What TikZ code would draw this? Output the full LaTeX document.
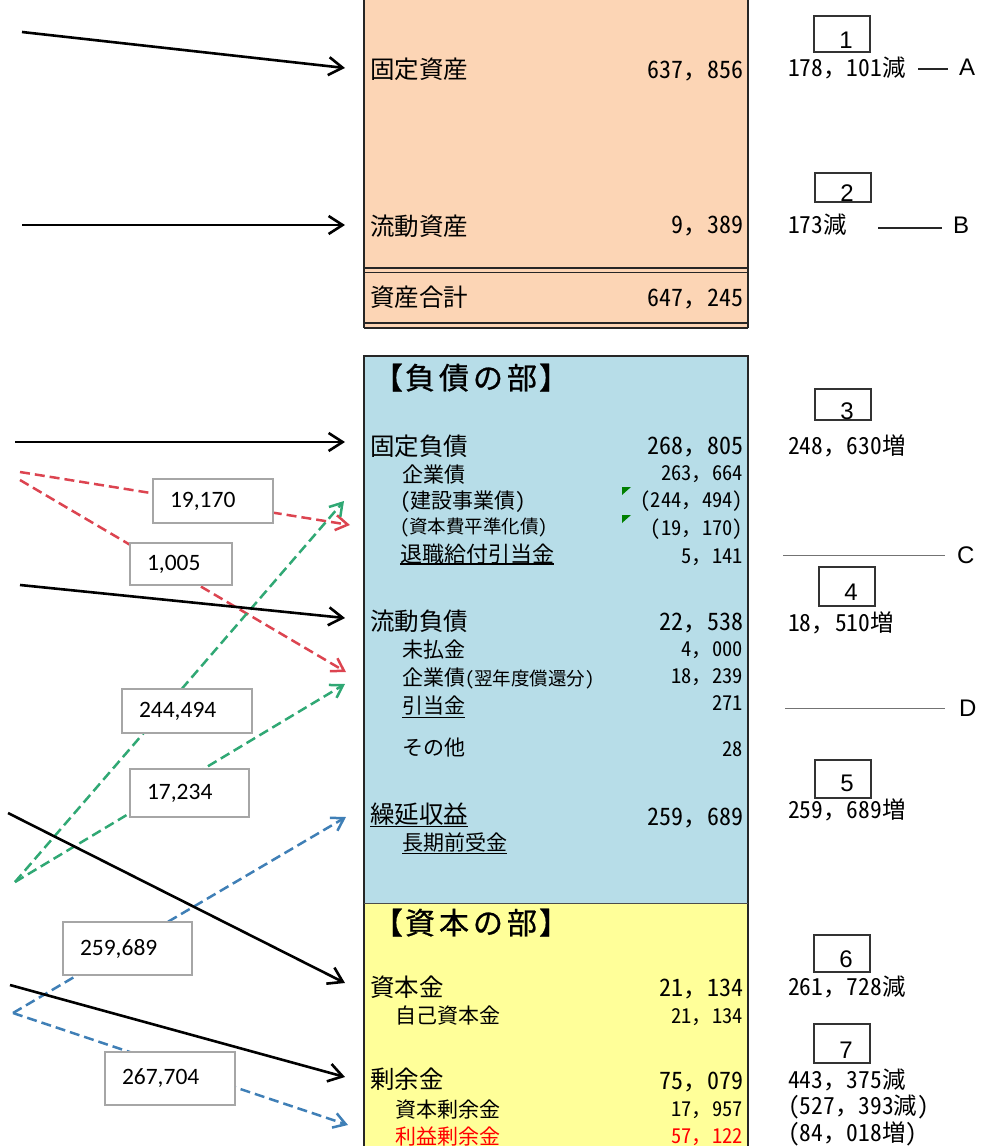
\documentclass[tikz,border=0pt]{standalone}
\usepackage{fontspec}
\setmainfont{Noto Sans CJK JP}
\newfontfamily\hw{Noto Sans CJK JP}[RawFeature=+hwid]
\newfontfamily\hdrfont{Noto Sans CJK JP}[FakeBold=0.8]
\newfontfamily\labfont{Carlito}
\newfontfamily\arlfont{Liberation Sans}
\usetikzlibrary{arrows.meta}
\newcommand\numpair[2]{{\hw #1}，{\hw #2}}
\definecolor{peach}{HTML}{FCD5B5}
\definecolor{lblue}{HTML}{B7DDE8}
\definecolor{lyellow}{HTML}{FFFF99}
\definecolor{redd}{HTML}{DC4450}
\definecolor{greend}{HTML}{30A874}
\definecolor{blued}{HTML}{3F7FB6}
\definecolor{markgreen}{HTML}{008000}
\begin{document}
\begin{tikzpicture}[x=1pt,y=-1pt,
  every node/.style={inner sep=0pt, outer sep=0pt},
  bord/.style={draw=black!85, line width=1.4pt},
  L/.style={font=\fontsize{24.5}{24.5}\selectfont, anchor=base west},
  Ln/.style={font=\fontsize{24}{24}\selectfont, anchor=base east},
  S/.style={font=\fontsize{21}{21}\selectfont, anchor=base west},
  Sn/.style={font=\fontsize{20.5}{20.5}\selectfont, anchor=base east},
  H/.style={font=\hdrfont\fontsize{30}{30}\selectfont, anchor=base west},
  R/.style={font=\fontsize{23.5}{23.5}\selectfont, anchor=base west},
  letter/.style={font=\arlfont\fontsize{24}{24}\selectfont, anchor=base west},
  nbox/.style={draw=black!80, line width=1.1pt, minimum width=56pt, anchor=south west},
  nnum/.style={font=\arlfont\fontsize{24}{24}\selectfont, anchor=base},
  blk/.style={draw=black, line width=2.6pt, -{Straight Barb[length=14pt,width=18pt]}},
  dsh/.style={line width=2.5pt, dash pattern=on 10pt off 5pt, -{Straight Barb[length=12pt,width=15pt]}},
  lbl/.style={draw=black!35, line width=1.4pt, fill=white, font=\labfont\fontsize{23.5}{23.5}\selectfont, align=left, inner xsep=17pt, inner ysep=0pt},
  uline/.style={draw=black, line width=1.3pt},
  sep/.style={draw=black!55, line width=1pt}
]
\useasboundingbox (0,0) rectangle (986,1146);

% ---------- backgrounds ----------
\fill[peach] (364,-10) rectangle (748,328);
\fill[lblue] (364,356) rectangle (748,903);
\fill[lyellow] (364,903) rectangle (748,1156);
\draw[bord] (364,-10) -- (364,328) (748,-10) -- (748,328);
\draw[bord] (364,268) -- (748,268) (364,272.5) -- (748,272.5);
\draw[bord] (364,323) -- (748,323) (364,328) -- (748,328);
\draw[bord] (364,1156) -- (364,356) -- (748,356) -- (748,1156);
\draw[draw=black!70, line width=1pt] (364,903) -- (748,903);

% ---------- assets ----------
\node[L] (fa) at (370,78.5) {固定資産};
\node[Ln] (fav) at (743,78.5) {\numpair{637}{856}};
\node[L] (ca) at (370,235) {流動資産};
\node[Ln] (cav) at (743,233.5) {\numpair{9}{389}};
\node[L] (ta) at (370,306.5) {資産合計};
\node[Ln] (tav) at (743,306) {\numpair{647}{245}};

% ---------- liabilities ----------
\node[H] (hl) at (373,389) {【\kern2pt 負\kern4pt 債\kern4pt の\kern4pt 部\kern2pt 】};
\node[L] (fl) at (370,455) {固定負債};
\node[Ln] (flv) at (743,454) {\numpair{268}{805}};
\node[S] (bd) at (402,482) {企業債};
\node[Sn] (bdv) at (743,480.5) {\numpair{263}{664}};
\node[S] (bd1) at (400,508) {{\hw (}建設事業債{\hw )}};
\node[Sn] (bd1v) at (743,507.5) {\numpair{(244}{494)}};
\node[S, font=\fontsize{18.5}{18.5}\selectfont] (bd2) at (400,533) {{\hw (}資本費平準化債{\hw )}};
\node[Sn] (bd2v) at (743,535) {\numpair{(19}{170)}};
\node[S, font=\fontsize{22}{22}\selectfont] (rt) at (400,562) {退職給付引当金};
\node[Sn] (rtv) at (743,563.3) {\numpair{5}{141}};
\draw[uline] ([yshift=-2pt]rt.base west) -- ([yshift=-2pt]rt.base east);
\fill[markgreen] (622,487) -- (631,487) -- (622,495) -- cycle;
\fill[markgreen] (622,515) -- (631,515) -- (622,523) -- cycle;

\node[L] (cl) at (370,630) {流動負債};
\node[Ln] (clv) at (743,630) {\numpair{22}{538}};
\node[S] (ap) at (402,657) {未払金};
\node[Sn] (apv) at (743,656.7) {\numpair{4}{000}};
\node[S] (cb) at (402,685) {企業債{\fontsize{18.5}{18.5}\selectfont{\hw (}翌年度償還分{\hw )}}};
\node[Sn] (cbv) at (743,683.3) {\numpair{18}{239}};
\node[S] (pv) at (402,713.5) {引当金};
\node[Sn] (pvv) at (743,710) {{\hw 271}};
\draw[uline] ([yshift=-4pt]pv.base west) -- ([yshift=-4pt]pv.base east);
\node[S] (ot) at (402,755) {その他};
\node[Sn] (otv) at (743,756) {{\hw 28}};

\node[L] (dr) at (370,823.5) {繰延収益};
\node[Ln] (drv) at (743,825) {\numpair{259}{689}};
\draw[uline] ([yshift=-3pt]dr.base west) -- ([yshift=-3pt]dr.base east);
\node[S] (lt) at (402,850.3) {長期前受金};
\draw[uline] ([yshift=-3pt]lt.base west) -- ([yshift=-3pt]lt.base east);

% ---------- capital ----------
\node[H] (hc) at (373,934) {【\kern2pt 資\kern4pt 本\kern4pt の\kern4pt 部\kern2pt 】};
\node[L] (cp) at (370,996.5) {資本金};
\node[Ln] (cpv) at (743,996) {\numpair{21}{134}};
\node[S] (oc) at (395,1023.5) {自己資本金};
\node[Sn] (ocv) at (743,1023.3) {\numpair{21}{134}};
\node[L] (sp) at (370,1088.5) {剰余金};
\node[Ln] (spv) at (743,1089.3) {\numpair{75}{079}};
\node[S] (cs) at (395,1117) {資本剰余金};
\node[Sn] (csv) at (743,1116.7) {\numpair{17}{957}};
\node[S, text=red] (re) at (395,1144) {利益剰余金};
\node[Sn, text=red] (rev) at (743,1143.3) {\numpair{57}{122}};

% ---------- right column ----------
\node[nbox, minimum height=36pt] (b1) at (814,52) {};
\node[nnum] (n1) at ([xshift=4pt,yshift=4pt]b1.south) {1};
\node[R] (r1) at (788,76) {\numpair{178}{101}減};
\node[letter] (la) at (959,75) {A};
\coordinate (a1) at (918,69);
\coordinate (a2) at (948,69);
\draw[draw=black!85, line width=1.3pt] (a1) -- (a2);

\node[nbox, minimum height=29pt] (b2) at (815,202) {};
\node[nnum] (n2) at ([xshift=4pt,yshift=0.5pt]b2.south) {2};
\node[R] (r2) at (788,233) {{\hw 173}減};
\node[letter] (lb) at (953,233.3) {B};
\coordinate (bb1) at (878,228);
\coordinate (bb2) at (942,228);
\draw[draw=black!85, line width=1.3pt] (bb1) -- (bb2);

\node[nbox, minimum height=31pt] (b3) at (815,420) {};
\node[nnum] (n3) at ([xshift=4pt,yshift=1pt]b3.south) {3};
\node[R] (r3) at (788,454) {\numpair{248}{630}増};

\coordinate (c1) at (783,555);
\coordinate (c2) at (945,555);
\draw[sep] (c1) -- (c2);
\node[letter] (lc) at (957,563.3) {C};

\node[nbox, minimum height=39pt] (b4) at (819,606) {};
\node[nnum] (n4) at ([xshift=4pt,yshift=6pt]b4.south) {4};
\node[R] (r4) at (788,631.5) {\numpair{18}{510}増};

\coordinate (d1) at (785,708);
\coordinate (d2) at (945,708);
\draw[sep] (d1) -- (d2);
\node[letter] (ld) at (959,716.7) {D};

\node[nbox, minimum height=38pt] (b5) at (815,798) {};
\node[nnum] (n5) at ([xshift=4pt,yshift=7pt]b5.south) {5};
\node[R] (r5) at (788,818) {\numpair{259}{689}増};

\node[nbox, minimum height=37pt] (b6) at (814,972) {};
\node[nnum] (n6) at ([xshift=4pt,yshift=5pt]b6.south) {6};
\node[R] (r6) at (788,995) {\numpair{261}{728}減};

\node[nbox, minimum height=39pt] (b7) at (814,1063) {};
\node[nnum] (n7) at ([xshift=4pt,yshift=5pt]b7.south) {7};
\node[R] (r7) at (788,1088.3) {\numpair{443}{375}減};
\node[R] (r7a) at (788,1114.5) {\numpair{(527}{393}減{\hw )}};
\node[R] (r7b) at (788,1141.7) {\numpair{(84}{018}増{\hw )}};

% ---------- left arrows ----------
\coordinate (s1) at (22,32);   \coordinate (e1) at (345,68);
\coordinate (s2) at (22,225);  \coordinate (e2) at (345,225);
\coordinate (s3) at (15,442);  \coordinate (e3) at (345,442);
\coordinate (s4) at (20,585);  \coordinate (e4) at (345,618);
\coordinate (s5) at (8,813);   \coordinate (e5) at (345,983);
\coordinate (s6) at (10,985);  \coordinate (e6) at (345,1077);
\coordinate (sr1) at (20,472); \coordinate (er1) at (350,525);
\coordinate (sr2) at (20,480); \coordinate (er2) at (346,672);
\coordinate (sg) at (15,882);  \coordinate (eg1) at (344,501);
\coordinate (eg2) at (345,684);
\coordinate (sb) at (13,1013); \coordinate (eb1) at (346,817);
\coordinate (eb2) at (348,1125);

\draw[dsh, draw=redd] (sr1) -- (er1);
\draw[dsh, draw=redd] (sr2) -- (er2);
\draw[dsh, draw=greend] (sg) -- (eg1);
\draw[dsh, draw=greend] (sg) -- (eg2);
\draw[dsh, draw=blued] (sb) -- (eb1);
\draw[dsh, draw=blued] (sb) -- (eb2);

\draw[blk] (s1) -- (e1);
\draw[blk] (s2) -- (e2);
\draw[blk] (s3) -- (e3);
\draw[blk] (s4) -- (e4);
\draw[blk] (s5) -- (e5);
\draw[blk] (s6) -- (e6);

% ---------- value labels ----------
\node[lbl, text width=86pt, minimum height=44pt] (v1) at (213,501) {19,170};
\node[lbl, text width=68pt, minimum height=42pt] (v2) at (181,564) {1,005};
\node[lbl, text width=96pt, minimum height=44pt] (v3) at (187,711) {244,494};
\node[lbl, text width=85pt, minimum height=48pt] (v4) at (189.5,793) {17,234};
\node[lbl, text width=95pt, minimum height=53pt] (v5) at (127.5,948.5) {259,689};
\node[lbl, text width=96pt, minimum height=53pt] (v6) at (170,1078.5) {267,704};
\end{tikzpicture}
\end{document}
